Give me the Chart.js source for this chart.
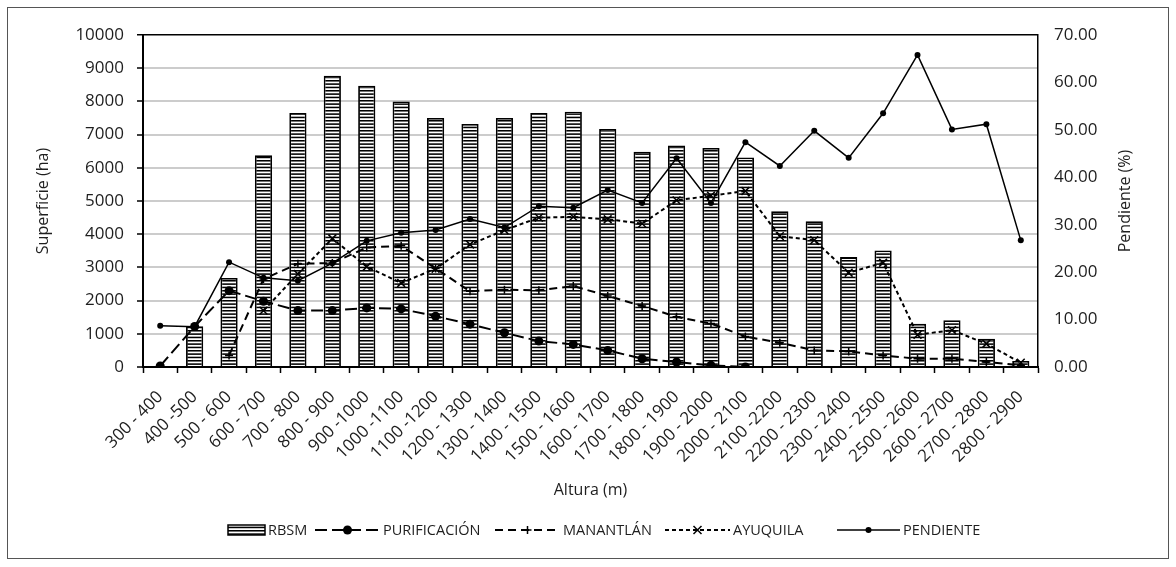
<!DOCTYPE html>
<html>
<head>
<meta charset="utf-8">
<script src="https://cdn.jsdelivr.net/npm/chart.js@4.4.0/dist/chart.umd.min.js"></script>
<style>
html,body{margin:0;padding:0;background:#fff;}
canvas{display:block;}
</style>
</head>
<body>
<canvas id="c" width="1176" height="567"></canvas>
<script>
const categories = ["300 - 400","400 -500","500 - 600","600 - 700","700 - 800","800 - 900","900 -1000","1000 -1100","1100 -1200","1200 - 1300","1300 - 1400","1400 - 1500","1500 - 1600","1600 - 1700","1700 - 1800","1800 - 1900","1900 - 2000","2000 - 2100","2100 -2200","2200 - 2300","2300 - 2400","2400 - 2500","2500 - 2600","2600 - 2700","2700 - 2800","2800 - 2900"];
const rbsm = [0,1230,2680,6380,7650,8770,8470,8000,7500,7320,7500,7650,7690,7170,6480,6670,6600,6310,4690,4390,3310,3510,1300,1410,850,180];
const purificacion = [30,1220,2300,1980,1700,1700,1780,1750,1530,1290,1030,780,680,500,250,150,50,0,null,null,null,null,null,null,null,null];
const manantlan = [null,null,350,2650,3110,3130,3600,3650,2970,2280,2330,2310,2440,2140,1840,1510,1310,920,730,500,470,350,250,250,150,50];
const ayuquila = [null,null,null,1700,2800,3870,3020,2530,2960,3690,4120,4500,4520,4450,4320,5020,5160,5300,3940,3820,2840,3140,970,1110,700,130];
const pendiente = [8.7,8.5,22.1,18.8,18.2,21.9,26.6,28.3,28.9,31.2,29.4,33.9,33.6,37.3,34.6,44.0,34.6,47.4,42.4,49.8,44.1,53.5,65.8,50.1,51.2,26.7];
const leftTicks = [0,1000,2000,3000,4000,5000,6000,7000,8000,9000,10000];
const rightTicks = [0,10,20,30,40,50,60,70];

const FONT = "'Open Sans', 'Noto Sans', sans-serif";
const TXT = '#1e1e1e';
const canvas = document.getElementById('c');
const ctx0 = canvas.getContext('2d');

function makePattern(){
  const c = document.createElement('canvas');
  c.width = 4; c.height = 10;
  const g = c.getContext('2d');
  g.fillStyle = '#fff'; g.fillRect(0,0,4,10);
  g.fillStyle = '#000';
  [0, 3.33, 6.67].forEach(y => g.fillRect(0, y, 4, 1.55));
  return ctx0.createPattern(c, 'repeat');
}
const stripes = makePattern();

const LEGEND_Y = 530;
const legendItems = [
  {type:'box', text:'RBSM', x0:228, x1:265},
  {type:'line', text:'PURIFICACIÓN', x0:315, x1:380, dash:[12,5], width:2, marker:'dot', r:4.5},
  {type:'line', text:'MANANTLÁN', x0:495, x1:560, dash:[8,5], width:2, marker:'plus', r:4},
  {type:'line', text:'AYUQUILA', x0:665, x1:730, dash:[4,3], width:2, marker:'x', r:4},
  {type:'line', text:'PENDIENTE', x0:837, x1:900, dash:[], width:1.5, marker:'dot', r:3}
];

const decor = {
  id:'decor',
  afterDraw(chart){
    const ctx = chart.ctx;
    ctx.save();
    ctx.strokeStyle = '#555';
    ctx.lineWidth = 1;
    ctx.strokeRect(7.5, 7.5, 1161, 551);
    const ca = chart.chartArea;
    ctx.save();
    ctx.translate(1125, (ca.top + ca.bottom) / 2);
    ctx.rotate(-Math.PI/2);
    ctx.font = "16px " + FONT;
    ctx.fillStyle = TXT;
    ctx.textAlign = 'center';
    ctx.textBaseline = 'middle';
    ctx.fillText('Pendiente (%)', 0, 0);
    ctx.restore();
    const ly = LEGEND_Y;
    ctx.font = "14.5px " + FONT;
    ctx.textBaseline = 'middle';
    legendItems.forEach(it => {
      if (it.type === 'box') {
        ctx.fillStyle = stripes;
        ctx.fillRect(it.x0, ly-5, it.x1-it.x0, 10);
        ctx.strokeStyle = '#000'; ctx.lineWidth = 1.5;
        ctx.strokeRect(it.x0, ly-5, it.x1-it.x0, 10);
      } else {
        ctx.strokeStyle = '#000';
        ctx.lineWidth = it.width;
        ctx.setLineDash(it.dash);
        ctx.beginPath(); ctx.moveTo(it.x0, ly); ctx.lineTo(it.x1, ly); ctx.stroke();
        ctx.setLineDash([]);
        const cx = (it.x0+it.x1)/2;
        ctx.fillStyle = '#000';
        if (it.marker === 'dot') { ctx.beginPath(); ctx.arc(cx, ly, it.r, 0, Math.PI*2); ctx.fill(); }
        else if (it.marker === 'plus') { ctx.lineWidth=1.5; ctx.beginPath(); ctx.moveTo(cx-it.r,ly); ctx.lineTo(cx+it.r,ly); ctx.moveTo(cx,ly-it.r); ctx.lineTo(cx,ly+it.r); ctx.stroke(); }
        else if (it.marker === 'x') { ctx.lineWidth=1.5; ctx.beginPath(); ctx.moveTo(cx-it.r,ly-it.r); ctx.lineTo(cx+it.r,ly+it.r); ctx.moveTo(cx+it.r,ly-it.r); ctx.lineTo(cx-it.r,ly+it.r); ctx.stroke(); }
      }
      ctx.fillStyle = TXT;
      ctx.textAlign = 'left';
      ctx.fillText(it.text, it.x1 + 3, ly + 1);
    });
    ctx.restore();
  }
};

new Chart(canvas, {
  data: {
    labels: categories,
    datasets: [
      {type:'line', label:'PURIFICACIÓN', data:purificacion, yAxisID:'y', borderColor:'#000', borderWidth:2, borderDash:[12,5], pointStyle:'circle', pointRadius:4.5, pointBackgroundColor:'#000', pointBorderColor:'#000', pointBorderWidth:0, tension:0, order:1},
      {type:'line', label:'MANANTLÁN', data:manantlan, yAxisID:'y', borderColor:'#000', borderWidth:2, borderDash:[8,5], pointStyle:'cross', pointRadius:4, pointBorderColor:'#000', pointBorderWidth:1.5, tension:0, order:1},
      {type:'line', label:'AYUQUILA', data:ayuquila, yAxisID:'y', borderColor:'#000', borderWidth:2, borderDash:[4,3], pointStyle:'crossRot', pointRadius:5.5, pointBorderColor:'#000', pointBorderWidth:1.5, tension:0, order:1},
      {type:'line', label:'PENDIENTE', data:pendiente, yAxisID:'y1', borderColor:'#000', borderWidth:1.5, pointStyle:'circle', pointRadius:3, pointBackgroundColor:'#000', pointBorderColor:'#000', pointBorderWidth:0, tension:0, order:0},
      {type:'bar', label:'RBSM', data:rbsm, yAxisID:'y', backgroundColor:stripes, borderColor:'#000', borderWidth:1.8, barPercentage:0.5, categoryPercentage:1.0, order:5}
    ]
  },
  options: {
    responsive:false,
    animation:false,
    devicePixelRatio:1,
    layout:{padding:{left:30, right:38, top:35, bottom:67}},
    plugins:{legend:{display:false}, tooltip:{enabled:false}},
    scales:{
      x:{
        type:'category',
        offset:true,
        grid:{display:true, drawOnChartArea:false, offset:true, tickLength:6, tickColor:'#000', tickWidth:1.5},
        border:{display:true, color:'#000', width:2},
        ticks:{autoSkip:false, maxRotation:45, minRotation:45, padding:14, color:TXT, font:{family:FONT, size:17}},
        title:{display:true, text:'Altura (m)', color:TXT, font:{family:FONT, size:16}, padding:{top:0,bottom:0}},
        afterFit(s){ s.height = 133; }
      },
      y:{
        position:'left',
        min:0, max:10000,
        afterBuildTicks(s){ s.ticks = leftTicks.map(v => ({value:v})); },
        grid:{color:c => (c.tick && c.tick.value === 10000) ? '#000' : '#cccccc', lineWidth:c => (c.tick && c.tick.value === 10000) ? 1.5 : 2, tickColor:'#000', tickWidth:1.5, tickLength:6},
        border:{display:true, color:'#000', width:2},
        ticks:{padding:13, color:TXT, font:{family:FONT, size:17}, callback:v => String(v)},
        title:{display:true, text:'Superficie (ha)', color:TXT, font:{family:FONT, size:16}, padding:{top:4,bottom:4}},
        afterFit(s){ s.width = 113; }
      },
      y1:{
        position:'right',
        min:0, max:70,
        afterBuildTicks(s){ s.ticks = rightTicks.map(v => ({value:v})); },
        grid:{drawOnChartArea:false, drawTicks:false},
        border:{display:true, color:'#000', width:1.5},
        ticks:{padding:16, color:TXT, font:{family:FONT, size:17}, callback:v => Number(v).toFixed(2)},
        title:{display:false},
        afterFit(s){ s.width = 100; }
      }
    }
  },
  plugins:[decor]
});
</script>
</body>
</html>
